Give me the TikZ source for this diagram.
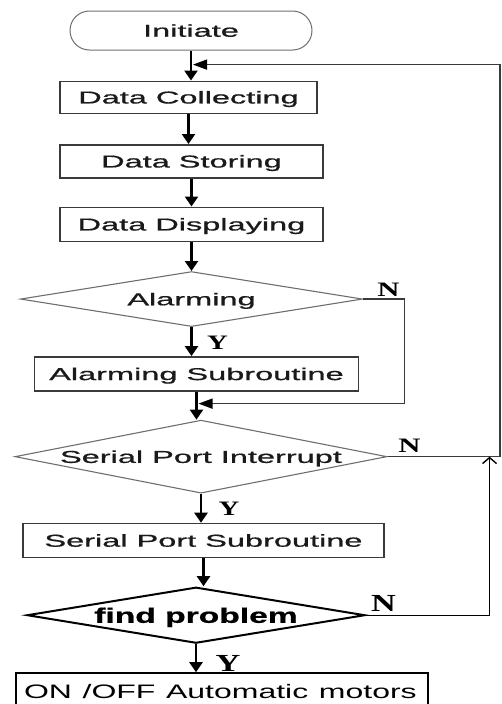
\documentclass[tikz,border=0pt]{standalone}
\usepackage{fontspec}
\setmainfont{Liberation Sans}[FakeBold=0.6]
\newfontfamily\ynfont{Liberation Serif}
\newfontfamily\motorfont{Liberation Sans}
\usepackage{xcolor}
\definecolor{f_line}{HTML}{3A3A3A}
\definecolor{f_light}{HTML}{6E6E6E}
\definecolor{f_text}{HTML}{1A1A1A}
\usetikzlibrary{positioning,calc,arrows.meta,shapes.geometric}
\newcommand{\wide}[2][1.89]{\scalebox{#1}[1]{#2}}
\newcommand{\dtext}[2][1.89]{\makebox[0pt]{\scalebox{#1}[1]{#2}}}

\begin{document}
\begin{tikzpicture}[
        x=1pt, y=-1pt,
        node distance=28pt,
        every node/.style={font=\fontsize{17.2}{20}\selectfont, text=f_text, text depth=0pt, inner sep=0pt},
        startstop/.style={draw=f_light, line width=1pt, rectangle, rounded corners=19.5pt, minimum width=242pt, minimum height=39pt},
        block/.style={draw=f_line, line width=1.5pt, rectangle, minimum height=34pt},
        decision/.style={draw=f_light, line width=1.1pt, diamond, aspect=1},
        fdecision/.style={draw=black, line width=2pt, diamond, aspect=1, font=\fontsize{21}{24}\selectfont\bfseries, text=black},
        outbox/.style={draw=black, line width=1.3pt, rectangle, text width=396pt, align=left, inner xsep=8pt, inner ysep=11.5pt, text height=14pt, text depth=40pt, font=\motorfont\fontsize{19.5}{22}\selectfont, text=black},
        yn/.style={font=\ynfont\bfseries\fontsize{20.5}{22}\selectfont, text=black},
        ynbig/.style={font=\ynfont\bfseries\fontsize{24.5}{26}\selectfont, text=black},
        flow/.style={draw=black, line width=2.4pt, -{Triangle[length=10pt,width=13pt]}},
        back/.style={draw=f_line, line width=1.5pt, shorten >=2pt, -{Triangle[length=14pt,width=10pt,color=black]}},
        upline/.style={draw=black, line width=1.4pt, -{Straight Barb[length=6pt,width=14pt]}}
    ]
        \useasboundingbox (0,0) rectangle (501,704);
        \clip (0,0) rectangle (501,704);

        \node[startstop] (init) at (191,30.5) {\wide{Initiate}};
        \node[block, minimum width=257pt, minimum height=32pt] (collect) [below=30pt of init, xshift=-2.5pt] {\wide{Data Collecting}};
        \node[block, minimum width=263pt, minimum height=33pt] (store) [below=30pt of collect, xshift=3pt] {\wide{Data Storing}};
        \node[block, minimum width=263pt] (display) [below=of store] {\wide{Data Displaying}};
        \node[decision, minimum width=342pt, minimum height=55pt] (alarm) [below=29pt of display] {\dtext{Alarming}};
        \node[block, minimum width=324pt] (alarmsub) [below=29pt of alarm, xshift=5pt] {\wide{Alarming Subroutine}};
        \node[decision, minimum width=372pt, minimum height=73pt] (spi) [below=of alarmsub, xshift=4.5pt] {\dtext{Serial Port Interrupt}};
        \node[block, minimum width=361pt] (sps) [below=29pt of spi, xshift=2.5pt] {\wide{Serial Port Subroutine}};
        \node[fdecision, minimum width=338pt, minimum height=56pt] (find) [below=of sps, xshift=-7.5pt] {\dtext[1.6]{find problem}};
        \node[outbox] (motor) [below=of find, xshift=26pt] {\wide[1.64]{ON /OFF Automatic motors}};

        % main flow
        \draw[flow] (init.south) -- (init.south |- collect.north);
        \draw[flow] (collect.south) -- (collect.south |- store.north);
        \draw[flow] (store.south) -- (store.south |- display.north);
        \draw[flow] (display.south) -- (display.south |- alarm.north);
        \draw[flow] (alarm.south) -- (alarm.south |- alarmsub.north);
        \draw[flow] (alarmsub.south) -- (alarmsub.south |- spi.north);
        \draw[flow] (spi.south) -- (spi.south |- sps.north);
        \draw[flow] (sps.south) -- (sps.south |- find.north);
        \draw[flow] (find.south) -- (find.south |- motor.north);

        % N branches
        \coordinate (join1) at ($(init.south)!0.47!(init.south |- collect.north)$);
        \coordinate (join2) at ($(alarmsub.south)!0.43!(alarmsub.south |- spi.north)$);
        \coordinate (rise) at ($(spi.east)+(102,0)$);
        \draw[back] (spi.east) -- ++(112.5,0) |- (join1);
        \draw[back] (alarm.east) -- ++(41.5,0) |- (join2);
        \draw[upline] (find.east) -| (rise);

        % Y / N labels
        \node[yn] (yAlarm) at ($(alarm.south)+(26,15.5)$) {\wide[1.4]{Y}};
        \node[yn] (nAlarm) at ($(alarm.east)+(25.5,-9.5)$) {\wide[1.5]{N}};
        \node[yn] (ySpi) at ($(spi.south)+(28,15.5)$) {\wide[1.4]{Y}};
        \node[yn] (nSpi) at ($(spi.east)+(22,-10.5)$) {\wide[1.5]{N}};
        \node[ynbig] (yFind) at ($(find.south)+(32,19)$) {\wide[1.4]{Y}};
        \node[ynbig] (nFind) at ($(find.east)+(17.5,-12)$) {\wide[1.4]{N}};
    \end{tikzpicture}
\end{document}
